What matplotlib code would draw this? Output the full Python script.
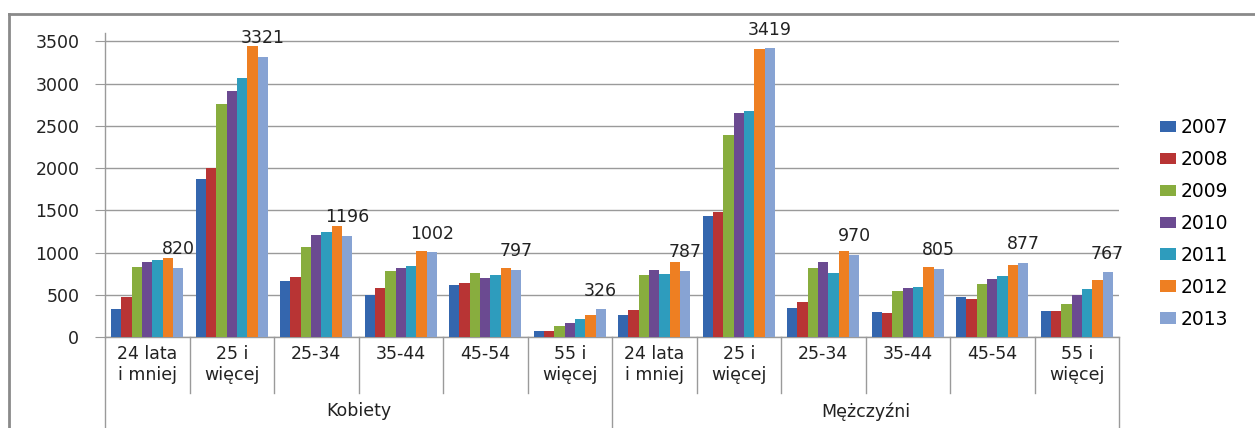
import numpy as np
import matplotlib
matplotlib.use("Agg")
import matplotlib.pyplot as plt
from matplotlib.lines import Line2D
from matplotlib.transforms import blended_transform_factory

plt.rcParams['font.family'] = ['DejaVu Sans']

YEARS = ['2007', '2008', '2009', '2010', '2011', '2012', '2013']
AGE_GROUPS = ['24 lata\ni mniej', '25 i\nwięcej', '25-34', '35-44', '45-54', '55 i\nwięcej']
SEXES = ['Kobiety', 'Mężczyźni']

# values: Kobiety (6 groups) followed by Mężczyźni (6 groups)
V_2007 = [331, 1874, 662, 496, 619, 71,   260, 1432, 339, 292, 473, 311]
V_2008 = [469, 2005, 709, 579, 638, 71,   319, 1482, 418, 280, 449, 311]
V_2009 = [831, 2763, 1060, 780, 760, 130, 729, 2398, 812, 544, 630, 390]
V_2010 = [890, 2914, 1202, 819, 701, 169, 788, 2656, 883, 579, 682, 496]
V_2011 = [910, 3064, 1249, 839, 729, 213, 749, 2672, 760, 591, 721, 571]
V_2012 = [930, 3450, 1320, 1020, 819, 260, 883, 3405, 1020, 831, 851, 674]
V_2013 = [820, 3321, 1196, 1002, 797, 326, 787, 3419, 970, 805, 877, 767]

SERIES = [V_2007, V_2008, V_2009, V_2010, V_2011, V_2012, V_2013]
COLORS = ['#3466ae', '#b83434', '#88ad3e', '#6b4a91', '#2e9cbd', '#ee7f22', '#87a3d3']

W, H = 1255, 428
fig = plt.figure(figsize=(W / 100, H / 100), dpi=100)
ax = fig.add_axes([105 / W, 1 - 337 / H, (1119 - 105) / W, 304 / H])

n_cat = len(AGE_GROUPS) * len(SEXES)
x = np.arange(n_cat)
bw = 0.122
for j, (vals, col, yr) in enumerate(zip(SERIES, COLORS, YEARS)):
    ax.bar(x + (j - 3) * bw, vals, width=bw, color=col, label=yr, zorder=3)

# data labels on the last series
for xi, v in zip(x + 3 * bw, V_2013):
    ax.annotate(str(v), (xi, v), xytext=(0, 7), textcoords='offset points',
                ha='center', va='bottom', fontsize=12.5, color='#222222',
                clip_on=False, zorder=5)

ax.set_xlim(-0.5, n_cat - 0.5)
ax.set_ylim(0, 3600)
ax.set_yticks(np.arange(0, 3501, 500))
ax.yaxis.grid(True, color='#9a9a9a', linewidth=1)
ax.set_axisbelow(True)
ax.tick_params(axis='y', labelsize=12.5, length=7, color='#9a9a9a', pad=11.5, labelcolor='#222222')
ax.set_xticks([])
for s in ['top', 'right']:
    ax.spines[s].set_visible(False)
for s in ['left', 'bottom']:
    ax.spines[s].set_color('#9a9a9a')
    ax.spines[s].set_linewidth(1)

# two level category axis
trans = blended_transform_factory(ax.transData, ax.transAxes)
labels = AGE_GROUPS * len(SEXES)
for i, lab in enumerate(labels):
    ax.text(i, -0.026, lab, transform=trans, ha='center', va='top',
            fontsize=12.5, linespacing=1.2, color='#222222')
for b in np.arange(-0.5, n_cat, 1.0):
    major = abs(((b + 0.5) % 6)) < 1e-9
    ax.add_line(Line2D([b, b], [0, -0.31 if major else -0.185], transform=trans,
                       color='#9a9a9a', linewidth=1, clip_on=False))
for k, sex in enumerate(SEXES):
    ax.text(k * 6 + 2.5, -0.245, sex, transform=trans, ha='center', va='center',
            fontsize=12.5, color='#222222')

leg = fig.legend(loc='upper left', bbox_to_anchor=(1160 / W, 1 - 118 / H),
                 frameon=False, fontsize=13.5, handlelength=0.85, handleheight=0.55,
                 handletextpad=0.25, labelspacing=0.69, borderpad=0, borderaxespad=0)

# outer chart border (cut off at the right and bottom)
fig.add_artist(Line2D([9 / W, 9 / W], [0, 1 - 14 / H], transform=fig.transFigure,
                      color='#8a8a8a', linewidth=2))
fig.add_artist(Line2D([9 / W, 1], [1 - 14 / H, 1 - 14 / H], transform=fig.transFigure,
                      color='#8a8a8a', linewidth=2))

fig.savefig('out.png', dpi=100)
